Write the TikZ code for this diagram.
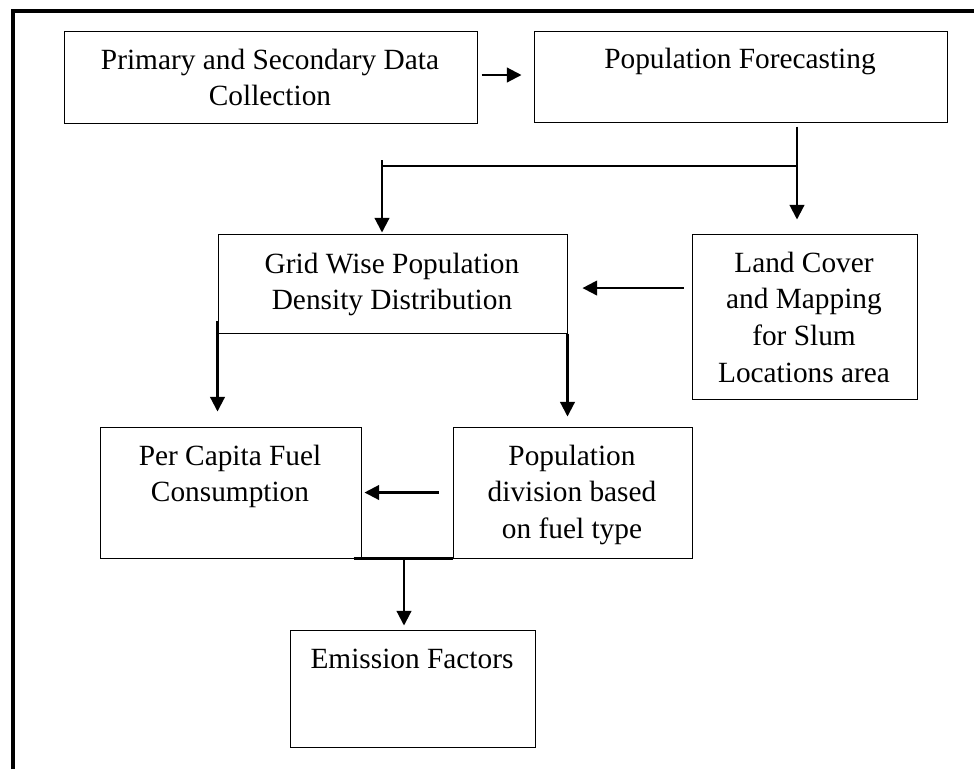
\documentclass[tikz,border=0pt]{standalone}
\usepackage{fontspec}
\setmainfont{Liberation Serif}
\usetikzlibrary{arrows.meta,fit}

% centred lines whose baseline is the baseline of the first line
\newcommand\boxlines[1]{\begin{tabular}[t]{@{}c@{}}#1\end{tabular}}

\begin{document}
\begin{tikzpicture}[x=0.75pt,y=-0.75pt,
  box/.style={draw, line width=0.75pt, inner sep=0pt},
  txt/.style={anchor=base, inner sep=0pt, font=\fontsize{22}{27.5}\selectfont},
  arr/.style={line width=1.6pt, -{Triangle[length=11pt,width=11pt]}},
  link/.style={line width=1.6pt},
  frame/.style={line width=3pt}]
\useasboundingbox (0,0) rectangle (974,769);

% outer frame (left and top edges)
\draw[frame] (13,769) -- (13,11) -- (974,11);

% process boxes
\node[box, fit={(64,31) (477,123)}]  (collect) {};
\node[box, fit={(534,31) (947,122)}] (forecast) {};
\node[box, fit={(218,234) (567,333)}] (grid) {};
\node[box, fit={(692,234) (917,399)}] (land) {};
\node[box, fit={(100,427) (361,558)}] (percap) {};
\node[box, fit={(453,427) (692,558)}] (popdiv) {};
\node[box, fit={(290,630) (535,747)}] (emis) {};

% box texts
\node[txt] (tcollect)  at (270,69)  {\boxlines{Primary and Secondary Data\\Collection}};
\node[txt] (tforecast) at (740,68)  {Population Forecasting};
\node[txt] (tgrid)     at (392,273) {\boxlines{Grid Wise Population\\Density Distribution}};
\node[txt] (tland)     at (804,272) {\boxlines{Land Cover\\and Mapping\\for Slum\\Locations area}};
\node[txt] (tpercap)   at (230,465) {\boxlines{Per Capita Fuel\\Consumption}};
\node[txt] (tpopdiv)   at (572,465) {\boxlines{Population\\division based\\on fuel type}};
\node[txt] (temis)     at (412,668) {Emission Factors};

% junction points
\coordinate (fork)  at (797,166);
\coordinate (forkL) at (382,166);
\coordinate (join)  at (404,558);

% connectors
\draw[arr, shorten <=3pt, shorten >=9pt] ([yshift=1.5pt]collect.east) -- ([yshift=1.5pt]collect.east -| forecast.west);
\draw[arr, shorten <=3pt, shorten >=10.5pt] (fork |- forecast.south) -- (fork |- land.north);
\draw[link] (fork) -- (forkL);
\draw[arr, shorten >=0.75pt] ([yshift=4.5pt]forkL) -- (forkL |- grid.north);
\draw[arr, shorten <=6pt, shorten >=11.25pt] ([yshift=-3.4pt]land.west |- grid.east) -- ([yshift=-3.4pt]grid.east);
\draw[arr, shorten >=11.25pt] ([yshift=9.75pt]grid.south west) -- (grid.south west |- percap.north);
\draw[arr, shorten >=7.5pt] (grid.south east) -- (grid.south east |- popdiv.north);
\draw[arr, shorten <=10.5pt, shorten >=2.25pt] (popdiv.west) -- (percap.east);
\draw[link] ([xshift=-6pt]percap.south east) -- (popdiv.south west);
\draw[arr, shorten >=3pt] (join) -- (join |- emis.north);
\end{tikzpicture}
\end{document}
